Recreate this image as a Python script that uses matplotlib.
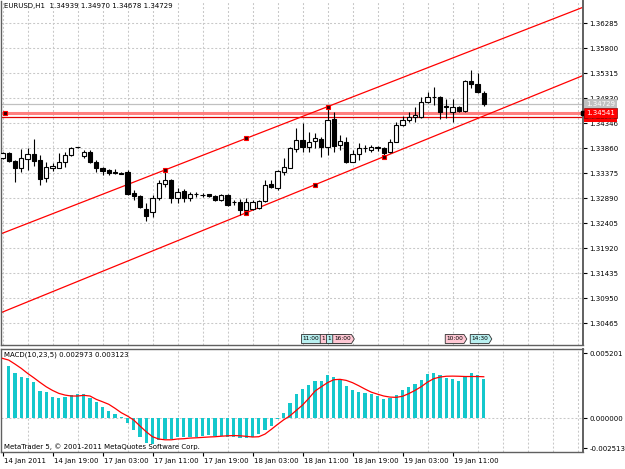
import matplotlib
matplotlib.use("Agg")
import matplotlib.pyplot as plt
import matplotlib.transforms as mtransforms
from matplotlib.patches import Polygon
import numpy as np

plt.rcParams['font.family'] = ['DejaVu Sans']

# ---------------- data ----------------
opens = [1.33672, 1.33763, 1.33614, 1.33472, 1.33647, 1.33744, 1.33633, 1.33278, 1.33484, 1.33484,
         1.33600, 1.33730, 1.33879, 1.33716, 1.33794, 1.33600, 1.33484, 1.33439, 1.33391, 1.33375,
         1.33400, 1.32987, 1.32935, 1.32682, 1.32630, 1.32890, 1.33162, 1.33245, 1.32890, 1.33037,
         1.32902, 1.32968, 1.32954, 1.32968, 1.32935, 1.32857, 1.32954, 1.32812, 1.32824, 1.32663,
         1.32682, 1.32696, 1.32838, 1.33162, 1.33096, 1.33406, 1.33484, 1.33846, 1.34021, 1.33891,
         1.34007, 1.34040, 1.33885, 1.34428, 1.33924, 1.33988, 1.33600, 1.33744, 1.33860, 1.33827,
         1.33872, 1.33860, 1.33794, 1.33988, 1.34312, 1.34409, 1.34461, 1.34473, 1.34752, 1.34846,
         1.34861, 1.34681, 1.34570, 1.34667, 1.34589, 1.35171, 1.35107, 1.34939]
highs = [1.33788, 1.33788, 1.33633, 1.33846, 1.33860, 1.34040, 1.33730, 1.33594, 1.33575, 1.33769,
         1.33794, 1.33891, 1.33891, 1.33827, 1.33821, 1.33633, 1.33503, 1.33453, 1.33453, 1.33406,
         1.33439, 1.33051, 1.32954, 1.32799, 1.32954, 1.33245, 1.33420, 1.33264, 1.33084, 1.33065,
         1.33018, 1.33018, 1.32999, 1.32973, 1.32954, 1.32973, 1.32968, 1.32857, 1.32871, 1.32890,
         1.32857, 1.32857, 1.33245, 1.33245, 1.33439, 1.33666, 1.33891, 1.34248, 1.34345, 1.34170,
         1.34151, 1.34085, 1.34667, 1.34564, 1.34118, 1.34073, 1.33827, 1.33957, 1.33924, 1.33924,
         1.33905, 1.33879, 1.34035, 1.34376, 1.34487, 1.34570, 1.34667, 1.34861, 1.34958, 1.35049,
         1.34875, 1.34811, 1.34811, 1.34681, 1.35185, 1.35379, 1.35315, 1.34970]
lows = [1.33652, 1.33594, 1.33212, 1.33406, 1.33439, 1.33522, 1.33148, 1.33212, 1.33420, 1.33478,
        1.33503, 1.33716, 1.33872, 1.33666, 1.33569, 1.33406, 1.33342, 1.33342, 1.33356, 1.33356,
        1.32954, 1.32857, 1.32696, 1.32450, 1.32533, 1.32857, 1.33115, 1.32793, 1.32793, 1.32812,
        1.32838, 1.32921, 1.32921, 1.32915, 1.32838, 1.32838, 1.32741, 1.32760, 1.32566, 1.32624,
        1.32663, 1.32682, 1.32824, 1.33096, 1.33051, 1.33342, 1.33478, 1.33794, 1.33794, 1.33794,
        1.33860, 1.33697, 1.33730, 1.33788, 1.33827, 1.33569, 1.33594, 1.33633, 1.33794, 1.33788,
        1.33808, 1.33697, 1.33775, 1.33982, 1.34293, 1.34376, 1.34376, 1.34442, 1.34733, 1.34700,
        1.34423, 1.34442, 1.34376, 1.34570, 1.34570, 1.35024, 1.34927, 1.34678]
closes = [1.33769, 1.33619, 1.33472, 1.33666, 1.33744, 1.33619, 1.33264, 1.33503, 1.33517, 1.33600,
          1.33730, 1.33872, 1.33885, 1.33794, 1.33588, 1.33472, 1.33425, 1.33375, 1.33385, 1.33371,
          1.32973, 1.32940, 1.32727, 1.32547, 1.32902, 1.33181, 1.33245, 1.32890, 1.33018, 1.32890,
          1.32968, 1.32973, 1.32960, 1.32935, 1.32857, 1.32954, 1.32760, 1.32818, 1.32663, 1.32824,
          1.32824, 1.32838, 1.33148, 1.33103, 1.33420, 1.33503, 1.33860, 1.34021, 1.33891, 1.33988,
          1.34054, 1.33891, 1.34409, 1.33905, 1.34002, 1.33600, 1.33744, 1.33860, 1.33866, 1.33879,
          1.33879, 1.33775, 1.33988, 1.34312, 1.34409, 1.34473, 1.34506, 1.34764, 1.34861, 1.34865,
          1.34570, 1.34661, 1.34667, 1.34589, 1.35171, 1.35107, 1.34946, 1.34729]

macd_main = [np.nan, 0.00393, 0.00338, 0.00312, 0.00300, 0.00275, 0.00205, 0.00196, 0.00163, 0.00155,
             0.00163, 0.00175, 0.00183, 0.00181, 0.00155, 0.00121, 0.00088, 0.00055, 0.00033, 0.00008,
             -0.00037, -0.00087, -0.00137, -0.00182, -0.00192, -0.00162, -0.00152, -0.00157, -0.00142, -0.00142,
             -0.00142, -0.00137, -0.00132, -0.00124, -0.00130, -0.00130, -0.00137, -0.00142, -0.00145, -0.00145,
             -0.00137, -0.00119, -0.00087, -0.00057, -0.00005, 0.00043, 0.00113, 0.00181, 0.00220, 0.00250,
             0.00280, 0.00280, 0.00325, 0.00308, 0.00288, 0.00245, 0.00213, 0.00200, 0.00193, 0.00181,
             0.00168, 0.00145, 0.00151, 0.00175, 0.00213, 0.00237, 0.00258, 0.00288, 0.00330, 0.00340,
             0.00325, 0.00305, 0.00295, 0.00280, 0.00320, 0.00338, 0.00327, 0.002973]
macd_signal = [0.00450, 0.00437, 0.00407, 0.00375, 0.00338, 0.00305, 0.00270, 0.00237, 0.00210, 0.00188,
               0.00175, 0.00168, 0.00168, 0.00173, 0.00168, 0.00143, 0.00125, 0.00106, 0.00076, 0.00043,
               0.00018, -0.00012, -0.00057, -0.00100, -0.00137, -0.00154, -0.00160, -0.00160, -0.00154, -0.00152,
               -0.00147, -0.00145, -0.00142, -0.00139, -0.00137, -0.00133, -0.00130, -0.00128, -0.00130, -0.00134,
               -0.00139, -0.00137, -0.00117, -0.00082, -0.00045, -0.00010, 0.00020, 0.00060, 0.00100, 0.00150,
               0.00205, 0.00237, 0.00268, 0.00290, 0.00293, 0.00285, 0.00268, 0.00245, 0.00220, 0.00197,
               0.00182, 0.00168, 0.00160, 0.00158, 0.00166, 0.00186, 0.00210, 0.00238, 0.00272, 0.00298,
               0.00310, 0.00316, 0.00317, 0.00316, 0.00314, 0.00314, 0.00314, 0.003123]

x_label_bars = [0, 8, 16, 24, 32, 40, 48, 56, 64, 72]
x_labels = ["14 Jan 2011", "14 Jan 19:00", "17 Jan 03:00", "17 Jan 11:00", "17 Jan 19:00",
            "18 Jan 03:00", "18 Jan 11:00", "18 Jan 19:00", "19 Jan 03:00", "19 Jan 11:00"]
price_ticks = [1.30465, 1.30950, 1.31435, 1.31920, 1.32405, 1.32890, 1.33375, 1.33860,
               1.34346, 1.34830, 1.35315, 1.35800, 1.36285]
macd_tick_labels = ["0.005201", "0.000000", "-0.002513"]

upper_trend = [(26, 1.33440), (52, 1.34667)]
lower_trend = [(39, 1.32610), (61, 1.33697)]
hline_selected = 1.34541
hline_other = 1.34462
bid_price = 1.34729

event_bars = [48, 51, 52, 53, 71, 75]
event_labels = ["11:00", "1", "1", "16:00", "10:00", "14:30"]
event_kinds = ["c", "p", "c", "p", "p", "c"]

title = "EURUSD,H1  1.34939 1.34970 1.34678 1.34729"
macd_title = "MACD(10,23,5) 0.002973 0.003123"
copyright_text = "MetaTrader 5, \u00a9 2001-2011 MetaQuotes Software Corp."

# ---------------- layout ----------------
W, H = 625, 469
fig = plt.figure(figsize=(W / 100, H / 100), dpi=100)
fig.patch.set_facecolor('white')

def box(x0, y0, x1, y1):
    return [x0 / W, 1 - y1 / H, (x1 - x0) / W, (y1 - y0) / H]

ax1 = fig.add_axes(box(1, 1, 583, 345))
ax2 = fig.add_axes(box(1, 349, 583, 452))

xlim = (-0.24, 92.88)
grid_kw = dict(color='#C8C8C8', linewidth=0.75, linestyle=(0, (1.9, 1.9)))
FS = 5

x = np.arange(len(opens))
o = np.array(opens); h = np.array(highs); l = np.array(lows); c = np.array(closes)

# ----- main panel -----
ax1.set_xlim(*xlim)
ax1.set_ylim(1.30044, 1.36718)
ax1.set_xticks(np.arange(0, 93, 4))
ax1.tick_params(axis='x', length=0, labelbottom=False)
ax1.grid(axis='both', **grid_kw)
ax1.set_axisbelow(True)
ax1.yaxis.tick_right()
ax1.set_yticks(price_ticks)
ax1.set_yticklabels([f"{v:.5f}" for v in price_ticks])
ax1.tick_params(axis='y', direction='out', length=3, width=0.8, pad=1.5,
                labelsize=FS, colors='black')

# bid line and horizontal lines
ax1.axhline(bid_price, color='#C0C0C0', lw=0.9, zorder=2)
ax1.axhline(hline_other, color='#E00000', lw=0.9, zorder=2)
ax1.axhline(hline_selected, color='#FF8080', lw=2.2, zorder=2)

# trend lines
for pts in (upper_trend, lower_trend):
    ax1.axline(pts[0], pts[1], color='red', lw=0.9, zorder=2)

# candles
ax1.vlines(x, l, h, color='black', lw=0.8, zorder=3)
body_bottom = np.minimum(o, c)
body_h = np.maximum(np.abs(c - o), 0.00003)
face = ['white' if cc >= oo else 'black' for oo, cc in zip(o, c)]
ax1.bar(x, body_h, bottom=body_bottom, width=0.68, color=face, edgecolor='black',
        linewidth=0.8, zorder=4)

# selection markers
mk = dict(marker='s', ms=3.0, mfc='#300000', mec='red', mew=0.8, ls='none', zorder=6)
for pts in (upper_trend, lower_trend):
    (xa, ya), (xb, yb) = pts
    ax1.plot([xa, (xa + xb) / 2, xb], [ya, (ya + yb) / 2, yb], **mk)
ax1.plot([0.4], [hline_selected], **mk)
ax1.plot([xlim[1]], [hline_selected], marker='s', ms=3.0, mfc='black', mec='black',
         ls='none', zorder=7, clip_on=False)

# price labels on the axis
tr_lab = mtransforms.blended_transform_factory(ax1.transAxes, ax1.transData)
xl = (586 - 1) / 582
ax1.text(xl, hline_other, f"{hline_other:.5f}", transform=tr_lab, fontsize=FS, color='white',
         va='center', ha='left', zorder=8, clip_on=False,
         bbox=dict(boxstyle='square,pad=0.25', fc='#FF0000', ec='none'))
ax1.text(xl, bid_price, f"{bid_price:.5f}", transform=tr_lab, fontsize=FS, color='white',
         va='center', ha='left', zorder=8, clip_on=False,
         bbox=dict(boxstyle='square,pad=0.25', fc='#C0C0C0', ec='none'))
ax1.text(xl, hline_selected, f"{hline_selected:.5f}", transform=tr_lab, fontsize=FS, color='white',
         va='center', ha='left', zorder=9, clip_on=False,
         bbox=dict(boxstyle='square,pad=0.25', fc='#FF0000', ec='#800000', lw=0.5))

# event flags
tr_ev = mtransforms.blended_transform_factory(ax1.transData, ax1.transAxes)
ybot, ytop = 1.5 / 344, 10.5 / 344
ymid = (ybot + ytop) / 2
for k, (b, lab, kind) in enumerate(zip(event_bars, event_labels, event_kinds)):
    x0 = b - 0.16
    w = 3.0
    a = 0.45
    fc = '#B8F0F0' if kind == 'c' else '#FFC8D4'
    poly = Polygon([(x0, ybot), (x0, ytop), (x0 + w, ytop), (x0 + w + a, ymid), (x0 + w, ybot)],
                   closed=True, transform=tr_ev, fc=fc, ec='#303030', lw=0.6, zorder=10 + 2 * k)
    ax1.add_patch(poly)
    ax1.text(x0 + 0.2, ymid, lab, transform=tr_ev, fontsize=4.2, va='center', ha='left',
             color='black', zorder=11 + 2 * k)

for side in ('left', 'bottom', 'right'):
    ax1.spines[side].set_color('#606060')
    ax1.spines[side].set_linewidth(1.0)
ax1.spines['right'].set_linewidth(1.4)
ax1.spines['top'].set_visible(False)

# ----- MACD panel -----
ax2.set_xlim(*xlim)
ax2.set_ylim(-0.002513, 0.005201)
ax2.bar(x, macd_main, width=0.52, color='#14C8CC', zorder=3)
ax2.plot(x, macd_signal, color='red', lw=0.9, zorder=4)
ax2.axhline(0, **grid_kw, zorder=1)
ax2.set_xticks(np.arange(0, 93, 4), minor=True)
ax2.grid(axis='x', which='minor', **grid_kw)
ax2.set_axisbelow(True)
ax2.set_xticks(x_label_bars)
ax2.set_xticklabels(x_labels)
ax2.tick_params(axis='x', which='major', direction='out', length=3, width=0.8, pad=1,
                labelsize=FS, colors='black')
ax2.tick_params(axis='x', which='minor', length=0)
off = mtransforms.ScaledTranslation(1.5 / 100, 0, fig.dpi_scale_trans)
for lbl in ax2.get_xticklabels():
    lbl.set_ha('left')
    lbl.set_transform(lbl.get_transform() + off)
ax2.yaxis.tick_right()
ax2.set_yticks([0.004898, 0.0, -0.002217])
ax2.set_yticklabels(macd_tick_labels)
ax2.tick_params(axis='y', direction='out', length=3, width=0.8, pad=1.5, labelsize=FS,
                colors='black')
for side in ('left', 'bottom', 'right', 'top'):
    ax2.spines[side].set_color('#606060')
    ax2.spines[side].set_linewidth(1.0)
ax2.spines['right'].set_linewidth(1.4)

# ----- texts -----
fig.text(4 / W, 1 - 6 / H, title, fontsize=FS, va='center', ha='left')
fig.text(4 / W, 1 - 355 / H, macd_title, fontsize=FS, va='center', ha='left')
fig.text(4 / W, 1 - 447 / H, copyright_text, fontsize=FS, va='center', ha='left')

fig.savefig('out.png', dpi=100, facecolor='white')
